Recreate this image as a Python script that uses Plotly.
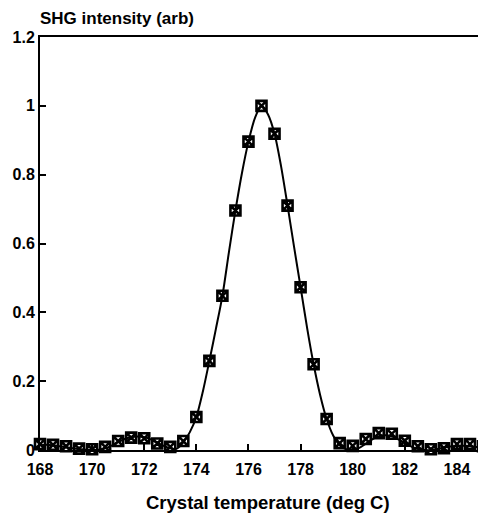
import plotly.graph_objects as go

# Measured points (temperature in deg C, SHG intensity arb)
temp_pts = [168.0, 168.5, 169.0, 169.5, 170.0, 170.5, 171.0, 171.5, 172.0, 172.5,
            173.0, 173.5, 174.0, 174.5, 175.0, 175.5, 176.0, 176.5, 177.0, 177.5,
            178.0, 178.5, 179.0, 179.5, 180.0, 180.5, 181.0, 181.5, 182.0, 182.5,
            183.0, 183.5, 184.0, 184.5, 185.0]
shg_pts = [0.017, 0.015, 0.011, 0.004, 0.002, 0.009, 0.026, 0.036, 0.034, 0.019,
           0.009, 0.026, 0.096, 0.259, 0.448, 0.696, 0.896, 1.0, 0.919, 0.710,
           0.473, 0.249, 0.090, 0.020, 0.012, 0.032, 0.049, 0.047, 0.027, 0.011,
           0.002, 0.005, 0.017, 0.017, 0.011]

# Fitted curve
temp_fit = [168.0, 168.25, 168.5, 168.75, 169.0, 169.25, 169.5, 169.75, 170.0, 170.25,
            170.5, 170.75, 171.0, 171.25, 171.5, 171.75, 172.0, 172.25, 172.5, 172.75,
            173.0, 173.25, 173.5, 173.75, 174.0, 174.25, 174.5, 174.75, 175.0, 175.25,
            175.5, 175.75, 176.0, 176.25, 176.5, 176.75, 177.0, 177.25, 177.5, 177.75,
            178.0, 178.25, 178.5, 178.75, 179.0, 179.25, 179.5, 179.75, 180.0, 180.25,
            180.5, 180.75, 181.0, 181.25, 181.5, 181.75, 182.0, 182.25, 182.5, 182.75,
            183.0, 183.25, 183.5, 183.75, 184.0, 184.25, 184.5, 184.75, 185.0]
shg_fit = [0.014, 0.015, 0.014, 0.011, 0.008, 0.005, 0.003, 0.001, 0.0, 0.001,
           0.005, 0.013, 0.023, 0.032, 0.037, 0.039, 0.037, 0.031, 0.022, 0.012,
           0.005, 0.004, 0.022, 0.052, 0.096, 0.170, 0.259, 0.352, 0.448, 0.575,
           0.696, 0.805, 0.896, 0.965, 1.0, 0.975, 0.919, 0.825, 0.710, 0.590,
           0.473, 0.355, 0.249, 0.160, 0.090, 0.042, 0.014, 0.002, 0.0, 0.006,
           0.018, 0.031, 0.040, 0.043, 0.040, 0.031, 0.020, 0.010, 0.003, 0.0,
           0.0, 0.003, 0.007, 0.010, 0.012, 0.012, 0.011, 0.009, 0.007]

x_ticks = [168, 170, 172, 174, 176, 178, 180, 182, 184]
y_ticks = [0, 0.2, 0.4, 0.6, 0.8, 1, 1.2]
y_tick_text = ["0", "0.2", "0.4", "0.6", "0.8", "1", "1.2"]

FONT = "Liberation Sans"

fig = go.Figure()
fig.add_trace(go.Scatter(
    x=temp_fit, y=shg_fit, mode="lines",
    line=dict(color="black", width=2, shape="spline", smoothing=0.8),
    hoverinfo="skip", showlegend=False))
fig.add_trace(go.Scatter(
    x=temp_pts, y=shg_pts, mode="markers",
    marker=dict(symbol="square-x-open", size=10, color="black",
                line=dict(color="black", width=2.6)),
    showlegend=False, cliponaxis=False))

# page body has an 8px default margin, so the figure is sized to fit inside
fig.update_layout(
    width=478, height=508,
    margin=dict(l=32, r=1, t=29, b=66),
    paper_bgcolor="white", plot_bgcolor="white",
    font=dict(family=FONT, color="black"),
    xaxis=dict(range=[168, 185], tickvals=x_ticks,
               ticktext=[f"<b>{v}</b>" for v in x_ticks],
               tickfont=dict(size=16, family=FONT),
               ticks="inside", ticklen=6, tickwidth=1.5, tickcolor="black",
               ticklabelstandoff=4,
               showline=True, linecolor="black", linewidth=2, mirror=True,
               showgrid=False, zeroline=False),
    yaxis=dict(range=[0, 1.2], tickvals=y_ticks,
               ticktext=[f"<b>{t}</b>" for t in y_tick_text],
               tickfont=dict(size=16, family=FONT),
               ticks="inside", ticklen=6, tickwidth=1.5, tickcolor="black",
               showline=True, linecolor="black", linewidth=2, mirror=True,
               showgrid=False, zeroline=False),
    annotations=[
        dict(text="<b>SHG intensity (arb)</b>", xref="paper", yref="paper",
             x=0, y=1, xanchor="left", yanchor="bottom", xshift=-2, yshift=7,
             showarrow=False, font=dict(size=17, family=FONT)),
        dict(text="<b>Crystal temperature (deg C)</b>", xref="paper", yref="paper",
             x=0.515, y=0, xanchor="center", yanchor="middle", yshift=-52,
             showarrow=False, font=dict(size=18.5, family=FONT)),
    ],
)

fig.write_html("out.html")
